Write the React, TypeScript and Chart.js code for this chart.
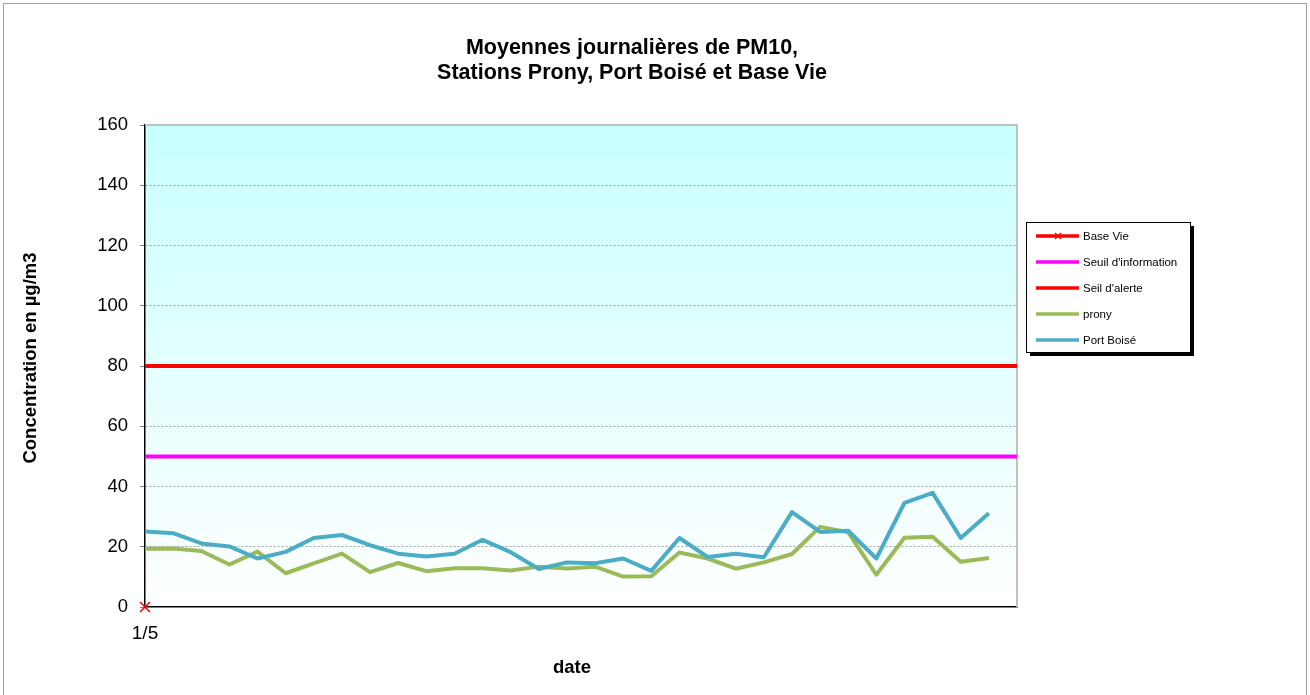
import React, { useEffect, useRef } from "react";
import { Chart, registerables } from "chart.js";
Chart.register(...registerables);

const dates = [
  "1/5", "2/5", "3/5", "4/5", "5/5", "6/5", "7/5", "8/5", "9/5", "10/5",
  "11/5", "12/5", "13/5", "14/5", "15/5", "16/5", "17/5", "18/5", "19/5", "20/5",
  "21/5", "22/5", "23/5", "24/5", "25/5", "26/5", "27/5", "28/5", "29/5", "30/5",
  "31/5", "1/6",
];
const shownXTicks = ["1/5"];
const yTicks = [0, 20, 40, 60, 80, 100, 120, 140, 160];

const baseVie = [0];
const prony = [
  19.3, 19.4, 18.6, 14.1, 18.4, 11.2, 14.5, 17.7, 11.6, 14.6,
  11.9, 12.9, 12.9, 12.1, 13.4, 12.8, 13.4, 10.1, 10.2, 18.1,
  16.1, 12.7, 14.8, 17.6, 26.6, 24.8, 10.7, 23.0, 23.3, 15.0, 16.3,
];
const portBoise = [
  25.1, 24.5, 21.1, 20.1, 16.1, 18.3, 22.9, 23.9, 20.5, 17.7,
  16.8, 17.7, 22.3, 18.2, 12.6, 14.8, 14.5, 16.1, 12.0, 22.9,
  16.6, 17.7, 16.5, 31.5, 24.9, 25.3, 16.1, 34.6, 37.9, 22.9, 31.1,
];
const seuilInformation = 50;
const seuilAlerte = 80;

const titleLines = ["Moyennes journalières de PM10,", "Stations Prony, Port Boisé et Base Vie"];
const yTitle = "Concentration en µg/m3";
const xTitle = "date";

const COL_BASE = "#ff0000";
const COL_INFO = "#ff00ff";
const COL_ALERTE = "#ff0000";
const COL_PRONY = "#9bbb59";
const COL_PORT = "#4bacc6";
const FONT = "'Liberation Sans', Arial, sans-serif";

const legendItems = [
  { label: "Base Vie", color: COL_BASE, marker: true },
  { label: "Seuil d'information", color: COL_INFO, marker: false },
  { label: "Seil d'alerte", color: COL_ALERTE, marker: false },
  { label: "prony", color: COL_PRONY, marker: false },
  { label: "Port Boisé", color: COL_PORT, marker: false },
];

const decorPlugin = {
  id: "decor",
  beforeDraw(chart: any) {
    const { ctx, chartArea: a, width, height } = chart;
    ctx.save();
    ctx.fillStyle = "#ffffff";
    ctx.fillRect(0, 0, width, height);
    ctx.strokeStyle = "#a0a0a0";
    ctx.lineWidth = 1;
    ctx.strokeRect(3.5, 3.5, width - 7, height + 10);
    const g = ctx.createLinearGradient(0, a.top, 0, a.bottom);
    g.addColorStop(0, "#c8ffff");
    g.addColorStop(1, "#ffffff");
    ctx.fillStyle = g;
    ctx.fillRect(a.left, a.top, a.right - a.left, a.bottom - a.top);
    ctx.restore();
  },
  beforeDatasetsDraw(chart: any) {
    const { ctx, chartArea: a } = chart;
    ctx.save();
    ctx.strokeStyle = "#c0c0c0";
    ctx.lineWidth = 2;
    ctx.beginPath();
    ctx.moveTo(a.left, a.top);
    ctx.lineTo(a.right, a.top);
    ctx.lineTo(a.right, a.bottom);
    ctx.stroke();
    ctx.restore();
  },
  afterDraw(chart: any) {
    const { ctx } = chart;
    ctx.save();
    // title
    ctx.fillStyle = "#000";
    ctx.textAlign = "center";
    ctx.textBaseline = "middle";
    ctx.font = `bold 21.5px ${FONT}`;
    ctx.fillText(titleLines[0], 632, 48);
    ctx.fillText(titleLines[1], 632, 73);
    // axis titles
    ctx.font = `bold 18.5px ${FONT}`;
    ctx.fillText(xTitle, 572, 668);
    ctx.save();
    ctx.translate(31, 358);
    ctx.rotate(-Math.PI / 2);
    ctx.fillText(yTitle, 0, 0);
    ctx.restore();
    // legend
    const bx = 1026, by = 222, bw = 164, bh = 130;
    ctx.fillStyle = "#000";
    ctx.fillRect(bx + 4, by + 4, bw, bh);
    ctx.fillStyle = "#fff";
    ctx.fillRect(bx, by, bw, bh);
    ctx.strokeStyle = "#000";
    ctx.lineWidth = 1;
    ctx.strokeRect(bx + 0.5, by + 0.5, bw, bh);
    ctx.font = `11.5px ${FONT}`;
    ctx.textAlign = "left";
    legendItems.forEach((it, i) => {
      const y = 236 + i * 26;
      ctx.strokeStyle = it.color;
      ctx.lineWidth = 3.5;
      ctx.beginPath();
      ctx.moveTo(1036, y);
      ctx.lineTo(1079, y);
      ctx.stroke();
      if (it.marker) {
        ctx.lineWidth = 1.2;
        ctx.beginPath();
        ctx.moveTo(1055, y - 3); ctx.lineTo(1061, y + 3);
        ctx.moveTo(1061, y - 3); ctx.lineTo(1055, y + 3);
        ctx.stroke();
      }
      ctx.fillStyle = "#000";
      ctx.fillText(it.label, 1083, y + 0.5);
    });
    ctx.restore();
  },
};

export default function App() {
  const ref = useRef<HTMLCanvasElement>(null);
  useEffect(() => {
    document.body.style.margin = "0";
    const canvas = ref.current!;
    const first = dates[0];
    const last = dates[dates.length - 1];
    const chart = new Chart(canvas, {
      type: "line",
      data: {
        labels: dates,
        datasets: [
          {
            label: "Base Vie",
            data: baseVie,
            borderColor: COL_BASE,
            backgroundColor: COL_BASE,
            pointStyle: "crossRot",
            pointRadius: 7,
            pointBorderWidth: 1.5,
            borderWidth: 3,
            clip: false as any,
            order: 0,
          },
          {
            label: "Port Boisé",
            data: portBoise,
            borderColor: COL_PORT,
            borderWidth: 4,
            pointRadius: 0,
            order: 1,
          },
          {
            label: "prony",
            data: prony,
            borderColor: COL_PRONY,
            borderWidth: 4,
            pointRadius: 0,
            order: 2,
          },
          {
            label: "Seil d'alerte",
            data: [{ x: first, y: seuilAlerte }, { x: last, y: seuilAlerte }] as any,
            borderColor: COL_ALERTE,
            borderWidth: 4,
            pointRadius: 0,
            order: 3,
          },
          {
            label: "Seuil d'information",
            data: [{ x: first, y: seuilInformation }, { x: last, y: seuilInformation }] as any,
            borderColor: COL_INFO,
            borderWidth: 4,
            pointRadius: 0,
            order: 4,
          },
        ],
      },
      options: {
        responsive: false,
        animation: false,
        events: [],
        elements: { line: { tension: 0, borderJoinStyle: "round", borderCapStyle: "butt" } },
        layout: { padding: { left: 0, top: 125, right: 293, bottom: 0 } },
        plugins: {
          legend: { display: false },
          title: { display: false },
          tooltip: { enabled: false },
        },
        scales: {
          x: {
            type: "category",
            offset: false,
            grid: { display: true, drawOnChartArea: false, drawTicks: false },
            border: { display: true, color: "#000", width: 1.5 },
            ticks: {
              autoSkip: false,
              maxRotation: 0,
              padding: 15,
              color: "#000",
              font: { family: FONT, size: 19 },
            },
            afterBuildTicks: (scale: any) => {
              scale.ticks = scale.ticks.filter((t: any) => shownXTicks.includes(dates[t.value]));
            },
            afterFit: (scale: any) => {
              scale.height = 88;
            },
          },
          y: {
            min: yTicks[0],
            max: yTicks[yTicks.length - 1],
            afterBuildTicks: (scale: any) => {
              scale.ticks = yTicks.map((v) => ({ value: v }));
            },
            afterFit: (scale: any) => {
              scale.width = 145;
            },
            grid: {
              color: (c: any) =>
                c.tick && (c.tick.value === yTicks[0] || c.tick.value === yTicks[yTicks.length - 1])
                  ? "rgba(0,0,0,0)"
                  : "#a0a0a0",
              lineWidth: 1,
              tickColor: "#808080",
              tickLength: 5,
              tickBorderDash: [],
            },
            border: { display: true, color: "#000", width: 1.5, dash: [2, 2] },
            ticks: {
              padding: 12,
              color: "#000",
              font: { family: FONT, size: 18.5 },
            },
          },
        },
      },
      plugins: [decorPlugin],
    });
    return () => chart.destroy();
  }, []);
  return (
    <div style={{ width: 1310, height: 695 }}>
      <canvas ref={ref} width={1310} height={695} style={{ display: "block" }} />
    </div>
  );
}
